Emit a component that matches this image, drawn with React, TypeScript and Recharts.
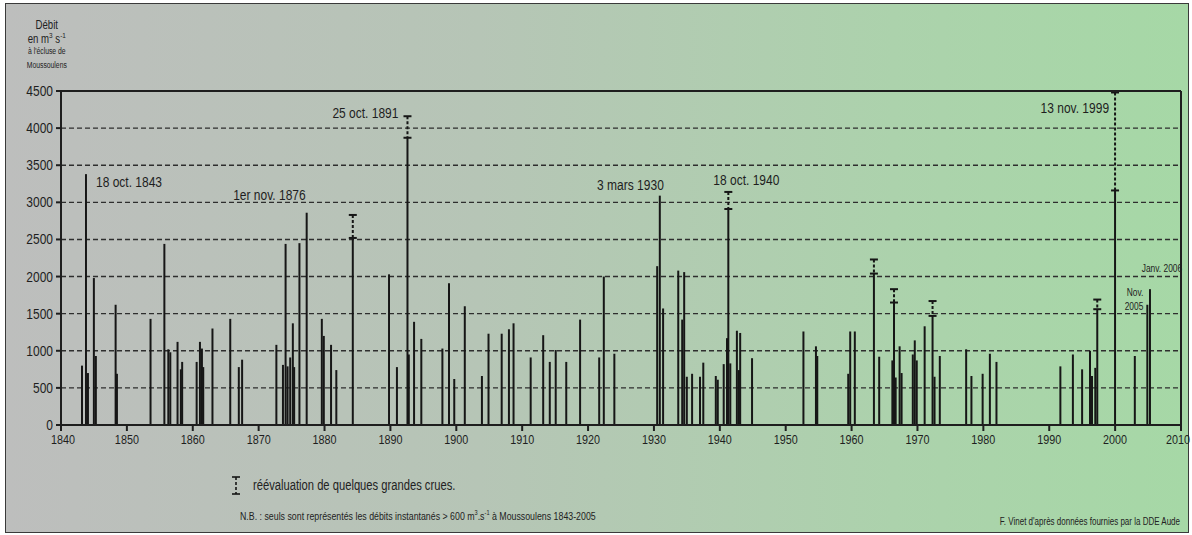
import React from 'react';
import { ComposedChart, Bar, XAxis, YAxis, CartesianGrid, ReferenceLine, LabelList } from 'recharts';

// peak flows > 600 m3/s at Moussoulens (year position, m3/s)
const years = [
  1843.2, 1843.8, 1844.1, 1845.0, 1845.3, 1848.3, 1848.5, 1853.6, 1855.7, 1856.3,
  1856.6, 1857.7, 1858.2, 1858.4, 1860.6, 1861.1, 1861.4, 1861.6, 1863.0, 1865.7,
  1867.0, 1867.5, 1872.7, 1873.7, 1874.1, 1874.4, 1874.8, 1875.2, 1875.4, 1876.2,
  1877.3, 1879.6, 1879.9, 1881.0, 1881.8, 1884.3, 1889.8, 1891.0, 1892.6, 1892.8,
  1893.6, 1894.7, 1897.9, 1898.9, 1899.7, 1901.3, 1903.9, 1904.9, 1906.9, 1908.0,
  1908.7, 1911.3, 1913.2, 1914.2, 1915.1, 1916.7, 1918.8, 1921.7, 1922.4, 1924.0,
  1930.5, 1930.9, 1931.4, 1933.7, 1934.3, 1934.6, 1935.0, 1935.8, 1937.0, 1937.5,
  1939.4, 1939.7, 1940.6, 1941.1, 1941.3, 1941.6, 1942.6, 1942.9, 1943.1, 1944.9,
  1952.7, 1954.6, 1954.8, 1959.5, 1959.8, 1960.5, 1963.4, 1964.2, 1966.2, 1966.45,
  1966.7, 1967.3, 1967.6, 1969.3, 1969.6, 1969.9, 1971.1, 1972.3, 1972.6, 1973.4,
  1977.4, 1978.2, 1979.9, 1981.0, 1982.0, 1991.7, 1993.6, 1995.0, 1996.2, 1996.5,
  1997.0, 1997.3, 2000.0, 2003.0, 2004.9, 2005.3,
];
const flows = [
  800, 3380, 700, 1980, 930, 1620, 690, 1430, 2440, 1020,
  980, 1120, 750, 850, 850, 1120, 1030, 780, 1300, 1430,
  780, 880, 1080, 810, 2440, 790, 910, 1370, 780, 2450,
  2860, 1430, 1200, 1080, 740, 2520, 2030, 780, 3870, 950,
  1390, 1160, 1030, 1910, 620, 1600, 660, 1230, 1230, 1290,
  1370, 910, 1210, 850, 1010, 850, 1420, 910, 2000, 960,
  2140, 3090, 1570, 2080, 1420, 2060, 650, 690, 650, 840,
  660, 610, 820, 1170, 2910, 830, 1270, 740, 1240, 900,
  1260, 1060, 930, 690, 1260, 1260, 2040, 920, 870, 1650,
  640, 1060, 700, 950, 1140, 870, 1330, 1470, 650, 930,
  1020, 660, 690, 960, 850, 790, 950, 750, 1000, 660,
  770, 1560, 3160, 930, 1620, 1830,
];

// re-evaluated peaks of some large floods
const reevalYears = [1884.3, 1892.6, 1941.3, 1963.4, 1966.45, 1972.3, 1997.3, 2000.0];
const reevalValues = [2830, 4160, 3140, 2230, 1830, 1670, 1690, 4480];

const labelYears = [1843.8, 1877.3, 1892.6, 1930.9, 1941.3, 2000.0, 2004.9, 2005.3];
const labelTexts = ['18 oct. 1843', '1er nov. 1876', '25 oct. 1891', '3 mars 1930', '18 oct. 1940', '13 nov. 1999', 'Nov.|2005', 'Janv. 2006'];

const xTicks = [1840, 1850, 1860, 1870, 1880, 1890, 1900, 1910, 1920, 1930, 1940, 1950, 1960, 1970, 1980, 1990, 2000, 2010];
const yTicks = [0, 500, 1000, 1500, 2000, 2500, 3000, 3500, 4000, 4500];

const data = years.map((year, i) => {
  const r = reevalYears.indexOf(year);
  const l = labelYears.indexOf(year);
  return {
    year,
    flow: flows[i],
    extra: r >= 0 ? reevalValues[r] - flows[i] : 0,
    label: l >= 0 ? labelTexts[l] : '',
  };
});

const FONT = "'Liberation Sans', Arial, sans-serif";
const SQUEEZE = 0.8; // narrow look of the original lettering
const INK = '#161616';

const labelLayout: Record<string, { anchor: string; dx: number; dy: number; size: number }> = {
  '18 oct. 1843': { anchor: 'start', dx: 10, dy: 13, size: 15 },
  '1er nov. 1876': { anchor: 'end', dx: -1, dy: -13, size: 15 },
  '25 oct. 1891': { anchor: 'end', dx: -9, dy: 2, size: 15 },
  '3 mars 1930': { anchor: 'end', dx: 4, dy: -6, size: 15 },
  '18 oct. 1940': { anchor: 'start', dx: -15, dy: -7, size: 15 },
  '13 nov. 1999': { anchor: 'end', dx: -6, dy: 21, size: 15 },
  'Nov.|2005': { anchor: 'end', dx: -4, dy: -9, size: 10.5 },
  'Janv. 2006': { anchor: 'middle', dx: 12, dy: -17, size: 10.5 },
};

const NarrowText = ({ x, y, anchor, size, dy, children }: any) => (
  <g transform={`translate(${x},${y}) scale(${SQUEEZE},1)`}>
    <text x={0} y={0} dy={dy} textAnchor={anchor} fontFamily={FONT} fontSize={size} fill="#1e1e1e">
      {children}
    </text>
  </g>
);

const XTick = (props: any) => {
  const { x, y, payload } = props;
  const shift = payload.value === 2010 ? -3 : payload.value === 1840 ? 2 : 0;
  return <NarrowText x={x + shift} y={y} anchor="middle" size={13.5} dy="0.75em">{payload.value}</NarrowText>;
};

const YTick = (props: any) => {
  const { x, y, payload } = props;
  return <NarrowText x={x} y={y} anchor="end" size={15} dy="0.33em">{payload.value}</NarrowText>;
};

const StemShape = (props: any) => {
  const { x, y, width, height } = props;
  if (x == null || y == null) return <g />;
  const cx = x + (width || 0) / 2;
  return <line x1={cx} x2={cx} y1={y} y2={y + (height || 0)} stroke={INK} strokeWidth={2} />;
};

const ReevalShape = (props: any) => {
  const { x, y, width, height } = props;
  if (x == null || y == null || !height || Math.abs(height) < 1) return <g />;
  const cx = x + (width || 0) / 2;
  const y2 = y + height;
  return (
    <g stroke={INK} strokeWidth={2}>
      <line x1={cx} x2={cx} y1={y} y2={y2} strokeDasharray="3 2" />
      <line x1={cx - 4} x2={cx + 4} y1={y} y2={y} />
      <line x1={cx - 4} x2={cx + 4} y1={y2} y2={y2} />
    </g>
  );
};

const FloodLabel = (props: any) => {
  const { value } = props;
  if (!value) return null;
  const vb = props.viewBox || props;
  const x = (vb.x ?? props.x) + ((vb.width ?? props.width) || 0) / 2;
  const y = vb.y ?? props.y;
  const st = labelLayout[value];
  if (!st) return null;
  const lines = String(value).split('|');
  return (
    <g>
      {lines.map((t, i) => (
        <NarrowText key={i} x={x + st.dx} y={y + st.dy + i * st.size * 1.4} anchor={st.anchor} size={st.size}>
          {t}
        </NarrowText>
      ))}
    </g>
  );
};

const abs = (left: number, top: number, extra: React.CSSProperties = {}): React.CSSProperties => ({
  position: 'absolute', left, top, fontFamily: FONT, color: '#222', whiteSpace: 'nowrap', lineHeight: 1,
  transform: `scaleX(${SQUEEZE})`, transformOrigin: 'left top', ...extra,
});

export default function App() {
  return (
    <div style={{ position: 'absolute', left: 0, top: 0, width: 1192, height: 535, background: '#fff', overflow: 'hidden' }}>
      <div
        style={{
          position: 'absolute', left: 5, top: 3, width: 1182, height: 528,
          border: '1.5px solid #3a3a3a',
          background: 'linear-gradient(to right, #bdbebd 0%, #b6c5b6 40%, #acd2ac 75%, #a6d8a6 100%)',
        }}
      />
      <div style={abs(0, 19, { width: 96, textAlign: 'center', fontSize: 12, transformOrigin: '42px 0' })}>Débit</div>
      <div style={abs(0, 32, { width: 96, textAlign: 'center', fontSize: 12, transformOrigin: '42px 0' })}>
        en m<sup style={{ fontSize: 8 }}>3</sup> s<sup style={{ fontSize: 8 }}>-1</sup>
      </div>
      <div style={abs(0, 47, { width: 96, textAlign: 'center', fontSize: 8.5, transformOrigin: '42px 0' })}>à l'écluse de</div>
      <div style={abs(0, 61, { width: 96, textAlign: 'center', fontSize: 8.5, transformOrigin: '42px 0' })}>Moussoulens</div>

      <div style={{ position: 'absolute', left: 0, top: 0 }}>
        <ComposedChart width={1192} height={535} data={data} margin={{ top: 91, right: 11, bottom: 80, left: 0 }}>
          <CartesianGrid vertical={false} stroke="#2e2e2e" strokeWidth={1.4} strokeDasharray="5 3" />
          <XAxis
            dataKey="year"
            type="number"
            domain={[1840, 2010]}
            ticks={xTicks}
            allowDataOverflow
            height={30}
            tickSize={6}
            tickMargin={3}
            interval={0}
            stroke="#1e1e1e"
            strokeWidth={2}
            tick={<XTick />}
          />
          <YAxis
            type="number"
            domain={[0, 4500]}
            ticks={yTicks}
            allowDataOverflow
            width={61}
            tickSize={5}
            tickMargin={3}
            interval={0}
            stroke="#1e1e1e"
            strokeWidth={2}
            tick={<YTick />}
          />
          <ReferenceLine y={4500} stroke="#1e1e1e" strokeWidth={2} />
          <ReferenceLine x={2010} stroke="#1e1e1e" strokeWidth={2} />
          <Bar dataKey="flow" stackId="q" barSize={2} shape={<StemShape />} isAnimationActive={false} />
          <Bar dataKey="extra" stackId="q" barSize={2} shape={<ReevalShape />} isAnimationActive={false}>
            <LabelList dataKey="label" content={<FloodLabel />} />
          </Bar>
        </ComposedChart>
      </div>

      <svg style={{ position: 'absolute', left: 230, top: 475 }} width={12} height={22}>
        <g stroke={INK} strokeWidth={1.6}>
          <line x1={2} x2={10} y1={2} y2={2} />
          <line x1={6} x2={6} y1={2} y2={19} strokeDasharray="3 2" />
          <line x1={2} x2={10} y1={19} y2={19} />
        </g>
      </svg>
      <div style={abs(253, 478, { fontSize: 14 })}>réévaluation de quelques grandes crues.</div>
      <div style={abs(240, 509, { fontSize: 11 })}>
        N.B. : seuls sont représentés les débits instantanés &gt; 600 m<sup style={{ fontSize: 7 }}>3</sup>.s<sup style={{ fontSize: 7 }}>-1</sup> à Moussoulens 1843-2005
      </div>
      <div style={abs(0, 517, { width: 1180, textAlign: 'right', fontSize: 10, transformOrigin: '1180px 0' })}>
        F. Vinet d'après données fournies par la DDE Aude
      </div>
    </div>
  );
}
